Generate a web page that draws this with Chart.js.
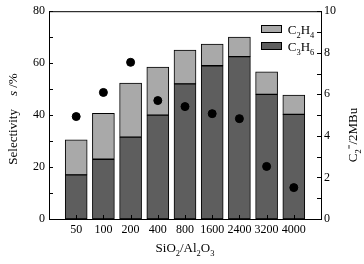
<!DOCTYPE html>
<html>
<head>
<meta charset="utf-8">
<script src="https://cdn.jsdelivr.net/npm/chart.js@4.4.0/dist/chart.umd.min.js"></script>
<style>
  html, body { margin: 0; padding: 0; background: #fff; }
</style>
</head>
<body>
<canvas id="chart" width="364" height="264"></canvas>
<script>
// SiO2/Al2O3 ratio categories
const ratios = ['50', '100', '200', '400', '800', '1600', '2400', '3200', '4000'];
// selectivity, % (stacked: C3H6 at the bottom, C2H4 on top)
const propene = [17, 23, 31.5, 40, 52, 59, 62.5, 48, 40.3];
const ethene = [13.5, 17.7, 20.8, 18.5, 13, 8.3, 7.5, 8.7, 7.4];
// C2=/2MBu ratio on the right axis
const c2ratio = [4.93, 6.09, 7.54, 5.7, 5.41, 5.07, 4.83, 2.53, 1.51];

const FONT = 'Liberation Serif';
const darkGrey = '#5e5e5e';
const lightGrey = '#a9a9a9';

// empty slot at each end so the bars sit inside the frame
const labels = [''].concat(ratios, ['']);
const pad = arr => [null].concat(arr, [null]);

// draw a row of text pieces, some of them sub/superscript or italic
function drawRuns(ctx, runs, x, y, size) {
  const fontOf = r => (r[1] === 'i' ? 'italic ' : '') +
    (r[1] === 'sub' || r[1] === 'sup' ? size * 0.65 : size) + 'px "' + FONT + '"';
  const widths = runs.map(r => {
    ctx.font = fontOf(r);
    return ctx.measureText(r[0]).width;
  });
  let cx = x - widths.reduce((a, b) => a + b, 0) / 2;
  runs.forEach((r, i) => {
    ctx.font = fontOf(r);
    let dy = 0;
    if (r[1] === 'sub') dy = size * 0.3;
    if (r[1] === 'sup') dy = -size * 0.35;
    ctx.fillText(r[0], cx, y + dy);
    cx += widths[i];
  });
}

const framePlugin = {
  id: 'frame',
  afterDatasetsDraw(chart) {
    const ctx = chart.ctx;
    const area = chart.chartArea;
    const x = chart.scales.x, y = chart.scales.y, y2 = chart.scales.y2;
    ctx.save();
    ctx.strokeStyle = '#000';
    ctx.lineWidth = 1;
    ctx.beginPath();
    // top edge of frame
    ctx.moveTo(area.left, area.top + 0.5);
    ctx.lineTo(area.right, area.top + 0.5);
    // inward ticks on the left axis
    for (let v = 0; v <= 80; v += 10) {
      const py = Math.round(y.getPixelForValue(v)) + 0.5;
      ctx.moveTo(area.left, py);
      ctx.lineTo(area.left + 4, py);
    }
    // inward ticks on the right axis
    for (let v = 0; v <= 10; v += 1) {
      const py = Math.round(y2.getPixelForValue(v)) + 0.5;
      ctx.moveTo(area.right, py);
      ctx.lineTo(area.right - 4, py);
    }
    // inward ticks on the x axis
    ratios.forEach((r, i) => {
      const px = Math.round(x.getPixelForValue(i + 1)) + 0.5;
      ctx.moveTo(px, area.bottom);
      ctx.lineTo(px, area.bottom - 4);
    });
    ctx.stroke();

    // legend
    ctx.textBaseline = 'alphabetic';
    ctx.textAlign = 'left';
    const items = [[lightGrey, 'C', '2', 'H', '4'], [darkGrey, 'C', '3', 'H', '6']];
    items.forEach((it, k) => {
      const top = 25 + k * 17;
      ctx.fillStyle = it[0];
      ctx.fillRect(261, top, 21, 8);
      ctx.strokeRect(261.5, top + 0.5, 20, 7);
      ctx.fillStyle = '#000';
      drawRuns(ctx, [[it[1], ''], [it[2], 'sub'], [it[3], ''], [it[4], 'sub']], 301, top + 9, 13);
    });

    // x axis title
    drawRuns(ctx, [['SiO', ''], ['2', 'sub'], ['/Al', ''], ['2', 'sub'], ['O', ''], ['3', 'sub']], 185, 252, 13);

    // left axis title
    ctx.save();
    ctx.translate(17, 119);
    ctx.rotate(-Math.PI / 2);
    drawRuns(ctx, [['Selectivity    ', ''], ['s', 'i'], [' /%', '']], 0, 0, 13);
    ctx.restore();

    // right axis title
    ctx.save();
    ctx.translate(357, 135);
    ctx.rotate(-Math.PI / 2);
    drawRuns(ctx, [['C', ''], ['2', 'sub'], ['=', 'sup'], ['/2MBu', '']], 0, 0, 13);
    ctx.restore();
    ctx.restore();
  }
};

new Chart(document.getElementById('chart'), {
  type: 'bar',
  data: {
    labels: labels,
    datasets: [
      {
        type: 'line',
        label: 'C2=/2MBu',
        data: pad(c2ratio),
        yAxisID: 'y2',
        showLine: false,
        pointRadius: 4,
        pointBackgroundColor: '#000',
        pointBorderColor: '#000',
        order: 0
      },
      {
        label: 'C3H6',
        data: pad(propene),
        backgroundColor: darkGrey,
        borderColor: '#000',
        borderWidth: 1,
        borderSkipped: false,
        barThickness: 22,
        stack: 's',
        order: 1
      },
      {
        label: 'C2H4',
        data: pad(ethene),
        backgroundColor: lightGrey,
        borderColor: '#000',
        borderWidth: 1,
        borderSkipped: false,
        barThickness: 22,
        stack: 's',
        order: 2
      }
    ]
  },
  options: {
    responsive: false,
    animation: false,
    layout: { padding: { top: 8, left: 0, right: 0, bottom: 0 } },
    plugins: {
      legend: { display: false },
      tooltip: { enabled: false }
    },
    scales: {
      x: {
        stacked: true,
        offset: false,
        grid: { display: false, drawTicks: false, tickLength: 0 },
        border: { display: true, color: '#000', width: 1 },
        ticks: {
          color: '#000',
          font: { family: FONT, size: 12 },
          maxRotation: 0,
          autoSkip: false,
          padding: 4
        },
        afterFit: s => { s.height = 45; }
      },
      y: {
        position: 'left',
        stacked: true,
        min: 0,
        max: 80,
        grid: { display: false, drawTicks: false, tickLength: 0 },
        border: { display: true, color: '#000', width: 1 },
        ticks: {
          stepSize: 10,
          color: '#000',
          font: { family: FONT, size: 12 },
          padding: 4,
          callback: v => (v % 20 === 0 ? v : '')
        },
        afterFit: s => { s.width = 49; }
      },
      y2: {
        position: 'right',
        min: 0,
        max: 10,
        grid: { display: false, drawTicks: false, tickLength: 0 },
        border: { display: true, color: '#000', width: 1 },
        ticks: {
          stepSize: 1,
          color: '#000',
          font: { family: FONT, size: 12 },
          padding: 3,
          callback: v => (v % 2 === 0 ? v : '')
        },
        afterFit: s => { s.width = 43; }
      }
    }
  },
  plugins: [framePlugin]
});
</script>
</body>
</html>
